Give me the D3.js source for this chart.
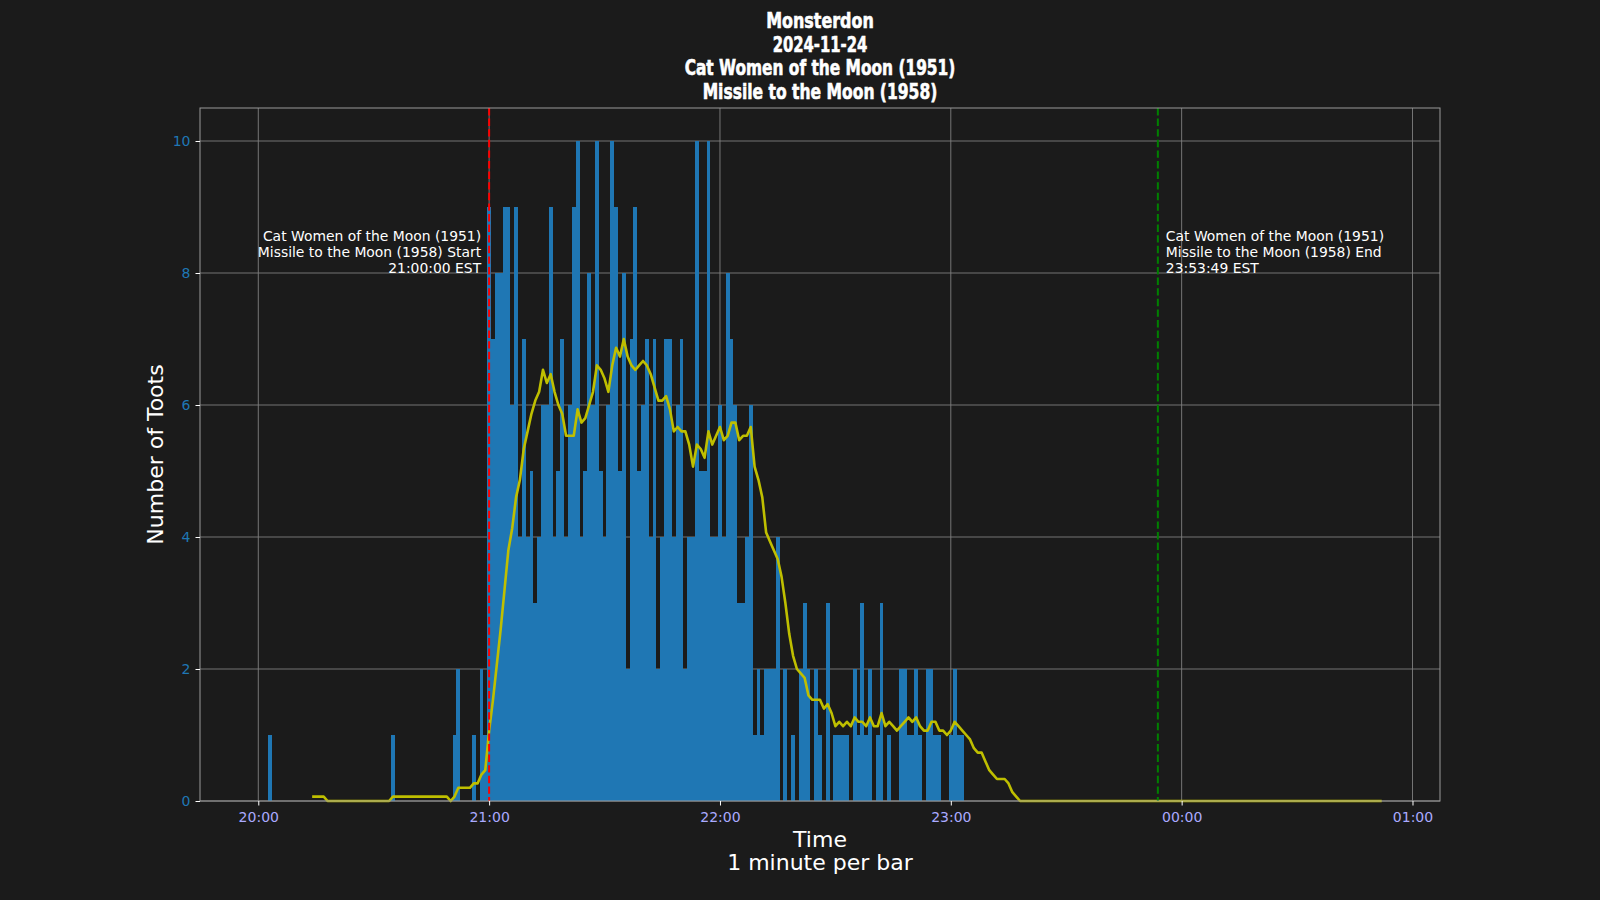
<!DOCTYPE html>
<html>
<head>
<meta charset="utf-8">
<script src="https://cdn.jsdelivr.net/npm/d3@7"></script>
<style>
  html, body { margin: 0; padding: 0; background: #1b1b1b; }
  svg { display: block; }
</style>
</head>
<body>
<svg id="chart" width="1600" height="900"></svg>
<script>
// ---------------- DATA ----------------
const titleLines = ["Monsterdon", "2024-11-24", "Cat Women of the Moon (1951)", "Missile to the Moon (1958)"];
const seriesStart = "2024-11-24T20:00:00";   // first minute of the toot series
const seriesEnd = "2024-11-25T00:52:00";     // last minute of the toot series
// toots per minute, one value per minute
const counts2000 = [0,0,0,1,0,0,0,0,0,0, 0,0,0,0,0,0,0,0,0,0, 0,0,0,0,0,0,0,0,0,0,
                    0,0,0,0,0,1,0,0,0,0, 0,0,0,0,0,0,0,0,0,0, 0,1,2,0,0,0,1,0,2,1];
const counts2100 = [9,7,8,8,9,9,6,9,4,7, 4,5,3,4,6,6,9,4,5,7, 4,6,9,10,4,5,8,6,10,5,
                    4,6,10,9,5,8,2,7,9,5, 6,7,4,7,2,4,7,7,4,6, 7,2,4,4,10,5,5,10,4,4];
const counts2200 = [6,4,8,7,6,3,3,4,6,1, 2,1,2,2,2,4,0,2,0,1, 0,2,3,2,0,2,1,0,3,0,
                    1,1,1,1,0,2,1,3,1,2, 0,1,3,0,1,0,0,2,2,1, 1,2,1,0,2,2,1,1,0,0];
const counts2300 = [1,2,1,1];
const rollingWindow = 15; // minutes, trailing mean drawn as the yellow line
const yTicks = [0, 2, 4, 6, 8, 10];
const xTickTimes = ["2024-11-24T20:00:00","2024-11-24T21:00:00","2024-11-24T22:00:00",
                    "2024-11-24T23:00:00","2024-11-25T00:00:00","2024-11-25T01:00:00"];
const startMarker = { time: "2024-11-24T21:00:00",
  lines: ["Cat Women of the Moon (1951)", "Missile to the Moon (1958) Start", "21:00:00 EST"] };
const endMarker = { time: "2024-11-24T23:53:49",
  lines: ["Cat Women of the Moon (1951)", "Missile to the Moon (1958) End", "23:53:49 EST"] };
const yLabel = "Number of Toots";
const xLabelLines = ["Time", "1 minute per bar"];

// ---------------- BUILD SERIES ----------------
const MIN = 60000;
const t0 = new Date(seriesStart).getTime();
const tEnd = new Date(seriesEnd).getTime();
const nMin = Math.round((tEnd - t0) / MIN) + 1;
const readCounts = counts2000.concat(counts2100, counts2200, counts2300);
const series = d3.range(nMin).map(i => ({ t: new Date(t0 + i * MIN), v: i < readCounts.length ? readCounts[i] : 0 }));
const rolling = series.map((d, i) => i < rollingWindow - 1 ? null :
  ({ t: d.t, v: d3.mean(series.slice(i - rollingWindow + 1, i + 1), e => e.v) })).filter(d => d);

// ---------------- LAYOUT ----------------
const svg = d3.select("#chart");
const W = 1600, H = 900;
const M = { left: 200, right: 1440, top: 108, bottom: 801 };
svg.append("rect").attr("width", W).attr("height", H).attr("fill", "#1b1b1b");

const pad = 0.05 * ((tEnd + 0.5 * MIN) - (t0 - 0.5 * MIN));
const x = d3.scaleTime()
  .domain([new Date(t0 - 0.5 * MIN - pad), new Date(tEnd + 0.5 * MIN + pad)])
  .range([M.left, M.right]);
const y = d3.scaleLinear().domain([0, 10.5]).range([M.bottom, M.top]);

const gridColor = "#808080";
// grid
const g = svg.append("g");
g.selectAll("line.vg").data(xTickTimes.map(s => new Date(s))).join("line")
  .attr("x1", d => x(d)).attr("x2", d => x(d)).attr("y1", M.top).attr("y2", M.bottom)
  .attr("stroke", gridColor).attr("stroke-width", 0.9);
g.selectAll("line.hg").data(yTicks).join("line")
  .attr("x1", M.left).attr("x2", M.right).attr("y1", d => y(d)).attr("y2", d => y(d))
  .attr("stroke", gridColor).attr("stroke-width", 0.9);

// bars
const bw = x(new Date(t0 + MIN)) - x(new Date(t0));
svg.append("g").selectAll("rect").data(series.filter(d => d.v > 0)).join("rect")
  .attr("x", d => x(d.t) - bw / 2).attr("width", bw)
  .attr("y", d => y(d.v)).attr("height", d => y(0) - y(d.v))
  .attr("fill", "#1f77b4").attr("shape-rendering", "crispEdges");

// rolling mean line
svg.append("path").datum(rolling)
  .attr("d", d3.line().x(d => x(d.t)).y(d => y(d.v)))
  .attr("fill", "none").attr("stroke", "#bfbf00").attr("stroke-width", 2.6)
  .attr("stroke-linejoin", "round");

// marker lines
[[startMarker, "#ff0000"], [endMarker, "#008000"]].forEach(([mk, col]) => {
  const xx = x(new Date(mk.time));
  svg.append("line").attr("x1", xx).attr("x2", xx).attr("y1", M.top).attr("y2", M.bottom)
    .attr("stroke", col).attr("stroke-width", 2).attr("stroke-dasharray", "7.4,3.2");
});
const annoFont = "DejaVu Sans, sans-serif";
function annotate(mk, dx, anchor) {
  const xx = x(new Date(mk.time)) + dx;
  const t = svg.append("text").attr("fill", "#ffffff").attr("font-family", annoFont)
    .attr("font-size", 13.9).attr("text-anchor", anchor);
  mk.lines.forEach((s, i) => t.append("tspan").attr("x", xx).attr("y", 240.8 + i * 16.3).text(s));
}
annotate(startMarker, -8, "end");
annotate(endMarker, 8, "start");

// frame
svg.append("rect").attr("x", M.left).attr("y", M.top)
  .attr("width", M.right - M.left).attr("height", M.bottom - M.top)
  .attr("fill", "none").attr("stroke", "#9a9a9a").attr("stroke-width", 1);

// axes
const xAxis = d3.axisBottom(x).tickValues(xTickTimes.map(s => new Date(s)))
  .tickFormat(d3.timeFormat("%H:%M")).tickSize(4.5).tickPadding(7);
const gx = svg.append("g").attr("transform", `translate(0,${M.bottom})`).call(xAxis);
gx.select(".domain").remove();
gx.selectAll(".tick line").attr("stroke", "#ffffff");
gx.selectAll(".tick text").attr("fill", "#aaaaff").attr("font-family", annoFont).attr("font-size", 14);

const yAxis = d3.axisLeft(y).tickValues(yTicks).tickSize(4.5).tickPadding(5);
const gy = svg.append("g").attr("transform", `translate(${M.left},0)`).call(yAxis);
gy.select(".domain").remove();
gy.selectAll(".tick line").attr("stroke", "#ffffff");
gy.selectAll(".tick text").attr("fill", "#1f77b4").attr("font-family", annoFont).attr("font-size", 14);

// axis labels
svg.append("text").attr("transform", `translate(163,${(M.top + M.bottom) / 2}) rotate(-90)`)
  .attr("text-anchor", "middle").attr("fill", "#ffffff").attr("font-family", annoFont)
  .attr("font-size", 22).text(yLabel);
const xl = svg.append("text").attr("text-anchor", "middle").attr("fill", "#ffffff")
  .attr("font-family", annoFont).attr("font-size", 22);
xLabelLines.forEach((s, i) => xl.append("tspan").attr("x", (M.left + M.right) / 2).attr("y", 846.5 + i * 23.5).text(s));

// title (one text element, one line per tspan)
const titleWidths = [107.6, 94.7, 270.7, 234.7];
const tt = svg.append("text").attr("text-anchor", "middle").attr("fill", "#ffffff")
  .attr("font-family", "DejaVu Sans Condensed, DejaVu Sans, sans-serif")
  .attr("font-weight", "bold").attr("font-size", 22)
  .attr("stroke", "#ffffff").attr("stroke-width", 0.6);
titleLines.forEach((s, i) => {
  tt.append("tspan").attr("x", (M.left + M.right) / 2).attr("y", 28.3 + i * 23.5)
    .attr("textLength", titleWidths[i]).attr("lengthAdjust", "spacingAndGlyphs")
    .text(s);
});
</script>
</body>
</html>
